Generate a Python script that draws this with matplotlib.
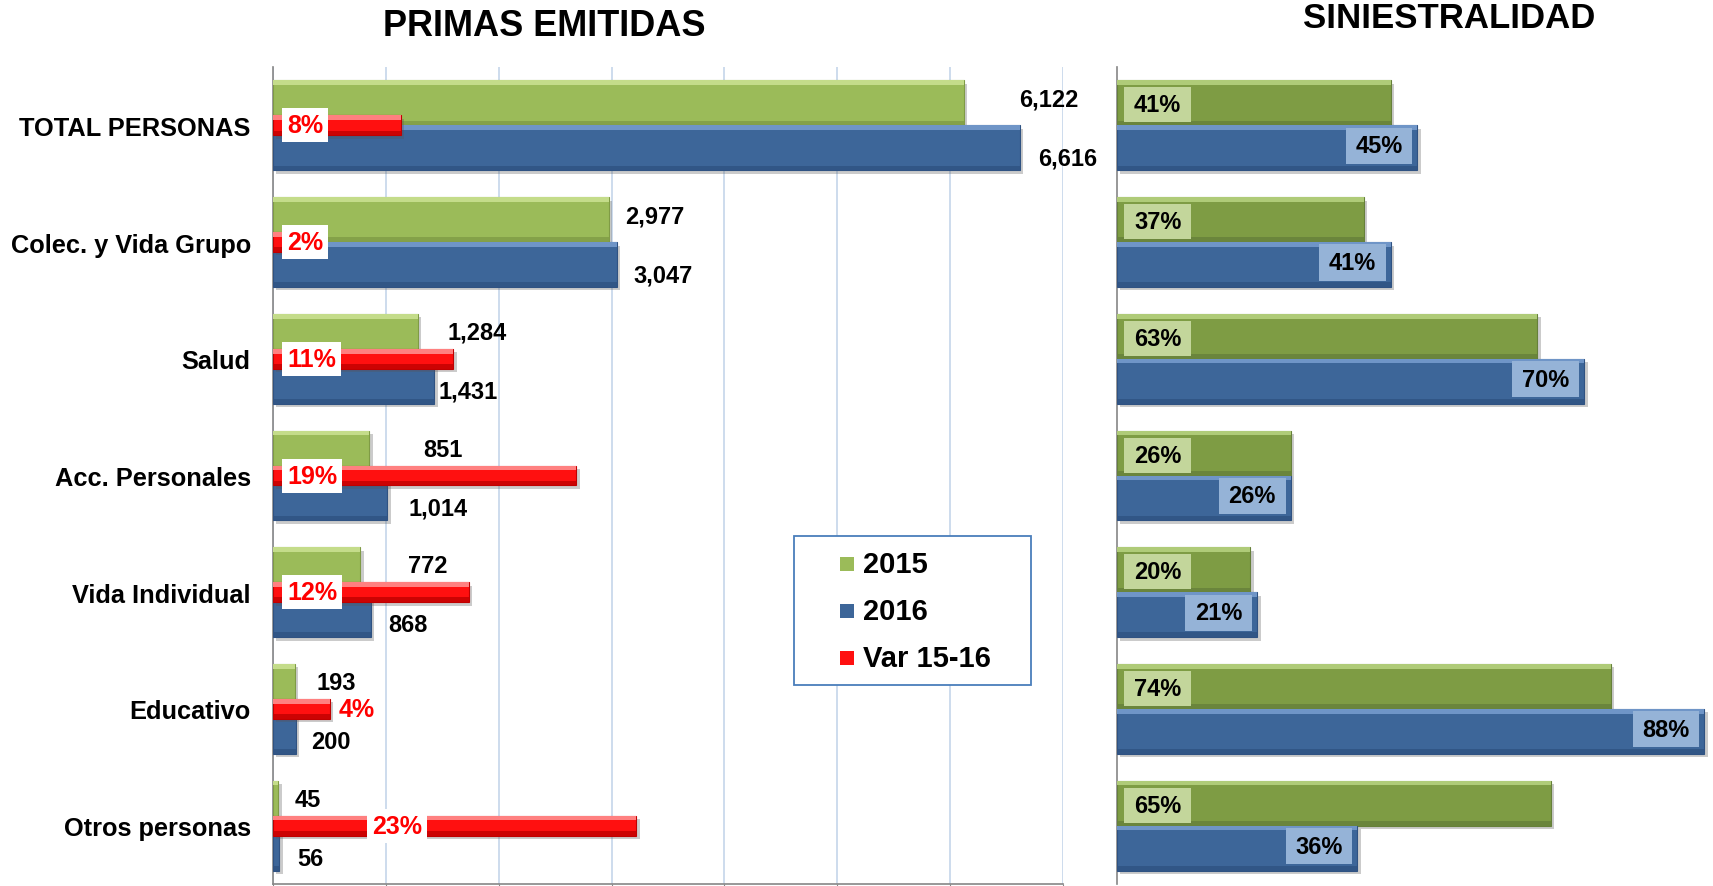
import matplotlib
matplotlib.use("Agg")
import matplotlib.pyplot as plt
import matplotlib.patheffects as pe
from matplotlib.patches import Rectangle
from matplotlib import font_manager
import numpy as np

# ---------------- data ----------------
categories = ["TOTAL PERSONAS", "Colec. y Vida Grupo", "Salud", "Acc. Personales",
              "Vida Individual", "Educativo", "Otros personas"]
primas_2015 = [6122, 2977, 1284, 851, 772, 193, 45]
primas_2016 = [6616, 3047, 1431, 1014, 868, 200, 56]
var_15_16 = [0.081, 0.024, 0.114, 0.192, 0.124, 0.036, 0.23]
sini_2015 = [0.41, 0.37, 0.63, 0.26, 0.20, 0.74, 0.65]
sini_2016 = [0.45, 0.41, 0.70, 0.26, 0.21, 0.88, 0.36]
legend_labels = ["2015", "2016", "Var 15-16"]
titles = ["PRIMAS EMITIDAS", "SINIESTRALIDAD"]

# ---------------- style / layout ----------------
plt.rcParams["font.family"] = ["Liberation Sans", "DejaVu Sans"]
plt.rcParams["font.weight"] = "bold"

_names = {f.name for f in font_manager.fontManager.ttflist}
if "Liberation Sans Narrow" in _names:
    NARROW = ["Liberation Sans Narrow", "Liberation Sans"]
    narrow_size = 20
else:
    NARROW = ["Liberation Sans", "DejaVu Sans"]
    narrow_size = 18

W, H = 1713, 887
GREEN_L, GREEN_L_HI, GREEN_L_LO = "#9BBB59", "#C4DC8A", "#7F9B45"
GREEN_R, GREEN_R_HI, GREEN_R_LO = "#7E9C44", "#AFCB78", "#66803A"
BLUE, BLUE_HI, BLUE_LO = "#3D6699", "#6F95C7", "#2F5282"
RED, RED_HI, RED_LO = "#FF1010", "#FF8080", "#C00000"
BOX_GREEN, BOX_BLUE = "#C3D69B", "#95B3D7"

# label offsets (pixels) for value labels of the left panel
green_dx_px = [55, 16, 30, 54, 48, 22, 17]
blue_dx_px = [18, 17, 4, 21, 17, 16, 18]
var_label_mode = ["base", "base", "base", "base", "base", "end", "inside"]

PX = 0.72  # points per pixel at dpi 100

fig = plt.figure(figsize=(W / 100, H / 100), dpi=100)

y = np.arange(len(categories))
h = 0.385
shadow = [pe.SimplePatchShadow(offset=(2.5, -2.5), alpha=0.3, shadow_rgbFace="#555555"), pe.Normal()]


def bevel_bars(ax, centers, values, height, base, hi, lo, z=3):
    ax.barh(centers, values, height=height, color=base, edgecolor=lo, linewidth=0.8,
            zorder=z, path_effects=shadow)
    ax.barh(centers - height / 2 + 0.02, values, height=0.04, color=hi, linewidth=0,
            zorder=z + 0.1)
    ax.barh(centers + height / 2 - 0.02, values, height=0.04, color=lo, linewidth=0,
            zorder=z + 0.1, alpha=0.8)


# ---------------- left panel ----------------
axL = fig.add_axes([273 / W, 2 / H, 790 / W, 817 / H])
axL.set_xlim(0, 7000)
axL.set_ylim(len(categories) - 0.5, -0.5)
axL.set_xticks(np.arange(0, 7001, 1000))
axL.grid(axis="x", color="#C5D5EA", linewidth=1.2, zorder=0)
axL.set_axisbelow(True)
axL.tick_params(axis="x", length=6, color="#868686", labelbottom=False)
axL.set_yticks(y)
axL.set_yticklabels(categories, fontsize=18.3, fontweight="bold")
axL.tick_params(axis="y", length=0, pad=16)
for s in ["top", "right"]:
    axL.spines[s].set_visible(False)
for s in ["left", "bottom"]:
    axL.spines[s].set_color("#868686")
    axL.spines[s].set_linewidth(1.2)

bevel_bars(axL, y - h / 2, primas_2015, h, GREEN_L, GREEN_L_HI, GREEN_L_LO)
bevel_bars(axL, y + h / 2, primas_2016, h, BLUE, BLUE_HI, BLUE_LO)

for i in range(len(categories)):
    axL.annotate(f"{primas_2015[i]:,}", xy=(primas_2015[i], y[i] - h / 2),
                 xytext=(green_dx_px[i] * PX, 4 * PX), textcoords="offset points",
                 ha="left", va="center", fontsize=17, fontweight="bold", zorder=6)
    axL.annotate(f"{primas_2016[i]:,}", xy=(primas_2016[i], y[i] + h / 2),
                 xytext=(blue_dx_px[i] * PX, -10 * PX), textcoords="offset points",
                 ha="left", va="center", fontsize=17, fontweight="bold", zorder=6)

# variation on a secondary axis
axV = axL.twiny()
axV.set_xlim(0, 0.5)
axV.set_ylim(len(categories) - 0.5, -0.5)
axV.axis("off")
bevel_bars(axV, y, var_15_16, 0.17, RED, RED_HI, RED_LO)
for i, v in enumerate(var_15_16):
    mode = var_label_mode[i]
    if mode == "base":
        xy, dx, ha = (0, y[i]), 14, "left"
    elif mode == "end":
        xy, dx, ha = (v, y[i]), 9, "left"
    else:
        xy, dx, ha = (0, y[i]), 124, "center"
    axV.annotate(f"{v:.0%}", xy=xy, xytext=(dx * PX, 0), textcoords="offset points",
                 ha=ha, va="center", fontsize=narrow_size, fontweight="bold",
                 family=NARROW, color="#FF0000", zorder=8,
                 bbox=dict(boxstyle="square,pad=0.2", facecolor="white", edgecolor="none"))

# ---------------- right panel ----------------
axR = fig.add_axes([1117 / W, 2 / H, 596 / W, 817 / H])
axR.set_xlim(0, 0.893)
axR.set_ylim(len(categories) - 0.5, -0.5)
axR.set_xticks([])
axR.set_yticks([])
for s in ["top", "right", "bottom"]:
    axR.spines[s].set_visible(False)
axR.spines["left"].set_color("#868686")
axR.spines["left"].set_linewidth(1.2)

bevel_bars(axR, y - h / 2, sini_2015, h, GREEN_R, GREEN_R_HI, GREEN_R_LO)
bevel_bars(axR, y + h / 2, sini_2016, h, BLUE, BLUE_HI, BLUE_LO)

box_w = 0.10
axR.barh(y - 0.175, box_w, left=0.011, height=0.30, color=BOX_GREEN, linewidth=0, zorder=5)
axR.barh(y + 0.175, box_w, left=np.array(sini_2016) - 0.0075 - box_w, height=0.31,
         color=BOX_BLUE, linewidth=0, zorder=5)
for i in range(len(categories)):
    axR.text(0.011 + box_w / 2, y[i] - 0.175, f"{sini_2015[i]:.0%}", ha="center",
             va="center", fontsize=17, fontweight="bold", zorder=6)
    axR.text(sini_2016[i] - 0.0075 - box_w / 2, y[i] + 0.175, f"{sini_2016[i]:.0%}",
             ha="center", va="center", fontsize=17, fontweight="bold", zorder=6)

# ---------------- titles ----------------
fig.text(544 / W, 1 - 27 / H, titles[0], ha="center", va="center", fontsize=26,
         fontweight="bold")
fig.text(1449 / W, 1 - 18 / H, titles[1], ha="center", va="center", fontsize=25,
         fontweight="bold")

# ---------------- legend ----------------
fig.add_artist(Rectangle((794 / W, 1 - 686 / H), 237 / W, 149 / H, transform=fig.transFigure,
                         facecolor="white", edgecolor="#4A7EBB", linewidth=1.3, zorder=10))
leg_colors = [GREEN_L, BLUE, RED]
leg_y = [565, 612, 659]
for lab, col, yy in zip(legend_labels, leg_colors, leg_y):
    fig.add_artist(Rectangle((840 / W, 1 - (yy + 7) / H), 14 / W, 14 / H,
                             transform=fig.transFigure, facecolor=col, edgecolor="none",
                             zorder=11))
    fig.text(863 / W, 1 - yy / H, lab, ha="left", va="center", fontsize=21,
             fontweight="bold", zorder=12)

fig.savefig("out.png", dpi=100)
